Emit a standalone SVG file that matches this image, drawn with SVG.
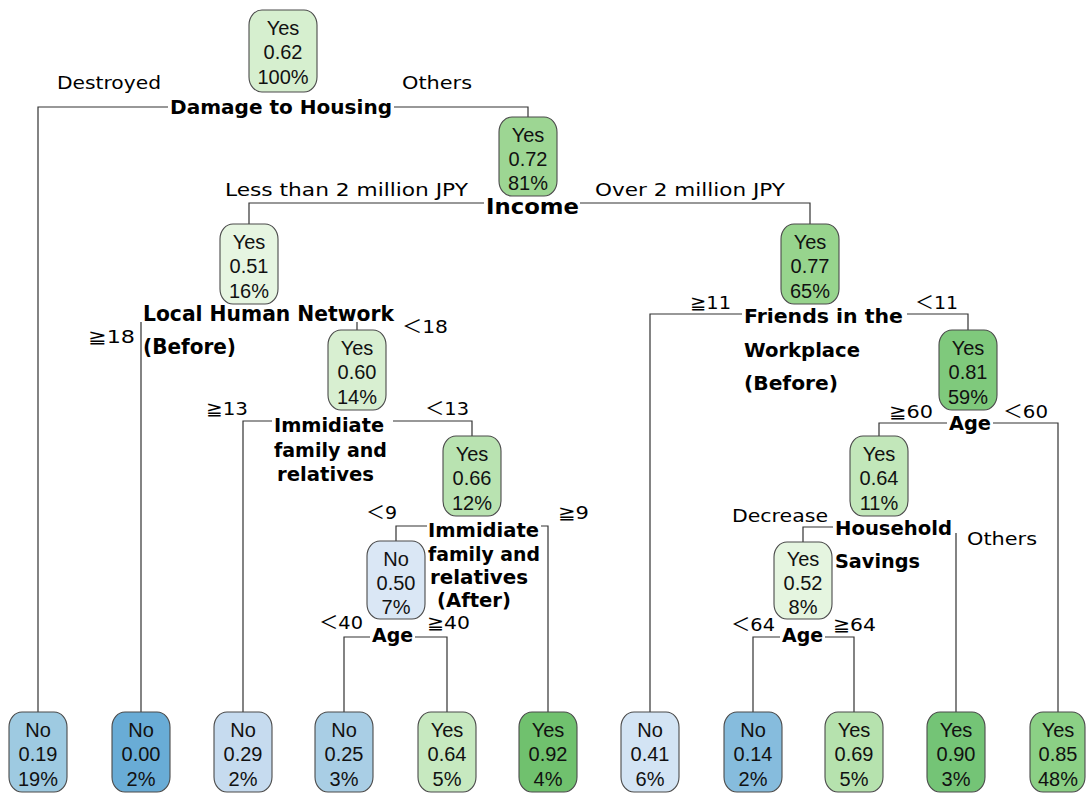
<svg xmlns="http://www.w3.org/2000/svg" width="1086" height="794" viewBox="0 0 1086 794">
<style>
.box{stroke:#4a4a4a;stroke-width:1.1}
.nt{font-family:"Liberation Sans",Arial,sans-serif;font-size:20px;fill:#111;text-anchor:middle}
.sp{font-family:"DejaVu Sans","Noto Sans CJK JP",sans-serif;font-weight:bold;font-size:20px;fill:#000}
.el{font-family:"DejaVu Sans","Noto Sans CJK JP",sans-serif;font-size:18px;fill:#000}
.cn{fill:none;stroke:#333;stroke-width:1.2}
</style>
<rect width="1086" height="794" fill="#fff"/>
<g id="connectors" class="cn">
<path d="M38 712V107H168M394 107H528V117"/>
<path d="M249 224V203H484M580 203H810V224"/>
<path d="M141 712V322M357 322V330"/>
<path d="M243 712V421H272M393 421H472V436"/>
<path d="M396 541V526H427M541 526H548V712"/>
<path d="M344 712V637H370M415 637H447V712"/>
<path d="M650 712V314H742M907 314H968V330"/>
<path d="M879 436V423H947M993 423H1058V712"/>
<path d="M803 542V527H833M956 533V712"/>
<path d="M753 712V637H780M825 637H854V712"/>
</g>
<g id="edge-labels" class="el">
<text x="57" y="89" textLength="104" lengthAdjust="spacingAndGlyphs">Destroyed</text>
<text x="402" y="89" textLength="70" lengthAdjust="spacingAndGlyphs">Others</text>
<text x="225" y="196" textLength="243" lengthAdjust="spacingAndGlyphs">Less than 2 million JPY</text>
<text x="595" y="196" textLength="190" lengthAdjust="spacingAndGlyphs">Over 2 million JPY</text>
<text x="88" y="343" textLength="47" lengthAdjust="spacingAndGlyphs">≧18</text>
<text x="402" y="333" textLength="46" lengthAdjust="spacingAndGlyphs">＜18</text>
<text x="206" y="415" textLength="42" lengthAdjust="spacingAndGlyphs">≧13</text>
<text x="425" y="415" textLength="44" lengthAdjust="spacingAndGlyphs">＜13</text>
<text x="366" y="519" textLength="31" lengthAdjust="spacingAndGlyphs">＜9</text>
<text x="558" y="519" textLength="31" lengthAdjust="spacingAndGlyphs">≧9</text>
<text x="319" y="629" textLength="44" lengthAdjust="spacingAndGlyphs">＜40</text>
<text x="427" y="629" textLength="43" lengthAdjust="spacingAndGlyphs">≧40</text>
<text x="690" y="309" textLength="41" lengthAdjust="spacingAndGlyphs">≧11</text>
<text x="915" y="309" textLength="43" lengthAdjust="spacingAndGlyphs">＜11</text>
<text x="889" y="418" textLength="44" lengthAdjust="spacingAndGlyphs">≧60</text>
<text x="1003" y="418" textLength="45" lengthAdjust="spacingAndGlyphs">＜60</text>
<text x="732" y="522" textLength="96" lengthAdjust="spacingAndGlyphs">Decrease</text>
<text x="967" y="545" textLength="70" lengthAdjust="spacingAndGlyphs">Others</text>
<text x="731" y="631" textLength="44" lengthAdjust="spacingAndGlyphs">＜64</text>
<text x="833" y="631" textLength="43" lengthAdjust="spacingAndGlyphs">≧64</text>
</g>
<g id="split-labels" class="sp">
<text x="170" y="114" textLength="222" lengthAdjust="spacingAndGlyphs">Damage to Housing</text>
<text x="486" y="214" font-size="22" textLength="93" lengthAdjust="spacingAndGlyphs">Income</text>
<text x="143" y="321" font-size="21" textLength="251" lengthAdjust="spacingAndGlyphs">Local Human Network</text>
<text x="143" y="354" font-size="21" textLength="93" lengthAdjust="spacingAndGlyphs">(Before)</text>
<text x="274" y="432" textLength="110" lengthAdjust="spacingAndGlyphs">Immidiate</text>
<text x="274" y="457" textLength="113" lengthAdjust="spacingAndGlyphs">family and</text>
<text x="277" y="481" textLength="97" lengthAdjust="spacingAndGlyphs">relatives</text>
<text x="428" y="537" textLength="111" lengthAdjust="spacingAndGlyphs">Immidiate</text>
<text x="428" y="561" textLength="112" lengthAdjust="spacingAndGlyphs">family and</text>
<text x="430" y="584" textLength="98" lengthAdjust="spacingAndGlyphs">relatives</text>
<text x="437" y="607" textLength="74" lengthAdjust="spacingAndGlyphs">(After)</text>
<text x="372" y="642" textLength="41" lengthAdjust="spacingAndGlyphs">Age</text>
<text x="744" y="323" textLength="159" lengthAdjust="spacingAndGlyphs">Friends in the</text>
<text x="744" y="357" textLength="116" lengthAdjust="spacingAndGlyphs">Workplace</text>
<text x="744" y="390" textLength="94" lengthAdjust="spacingAndGlyphs">(Before)</text>
<text x="949" y="430" textLength="42" lengthAdjust="spacingAndGlyphs">Age</text>
<text x="835" y="535" textLength="117" lengthAdjust="spacingAndGlyphs">Household</text>
<text x="835" y="568" textLength="85" lengthAdjust="spacingAndGlyphs">Savings</text>
<text x="782" y="642" textLength="41" lengthAdjust="spacingAndGlyphs">Age</text>
</g>
<g id="n1"><rect class="box" x="249" y="10" width="68" height="82" rx="13" ry="15" fill="#d6efcf"/><text class="nt" x="283" y="35">Yes</text><text class="nt" x="283" y="59">0.62</text><text class="nt" x="283" y="84">100%</text></g>
<g id="n2"><rect class="box" x="499" y="117" width="58" height="79" rx="13" ry="15" fill="#9dd693"/><text class="nt" x="528" y="142">Yes</text><text class="nt" x="528" y="166">0.72</text><text class="nt" x="528" y="190">81%</text></g>
<g id="n3"><rect class="box" x="220" y="224" width="58" height="80" rx="13" ry="15" fill="#e6f5e1"/><text class="nt" x="249" y="249">Yes</text><text class="nt" x="249" y="273">0.51</text><text class="nt" x="249" y="298">16%</text></g>
<g id="n4"><rect class="box" x="781" y="224" width="58" height="80" rx="13" ry="15" fill="#97d48d"/><text class="nt" x="810" y="249">Yes</text><text class="nt" x="810" y="273">0.77</text><text class="nt" x="810" y="298">65%</text></g>
<g id="n5"><rect class="box" x="328" y="330" width="58" height="80" rx="13" ry="15" fill="#d8efd1"/><text class="nt" x="357" y="355">Yes</text><text class="nt" x="357" y="379">0.60</text><text class="nt" x="357" y="404">14%</text></g>
<g id="n6"><rect class="box" x="939" y="330" width="58" height="80" rx="13" ry="15" fill="#7fc97c"/><text class="nt" x="968" y="355">Yes</text><text class="nt" x="968" y="379">0.81</text><text class="nt" x="968" y="404">59%</text></g>
<g id="n7"><rect class="box" x="443" y="436" width="58" height="80" rx="13" ry="15" fill="#b9e3b1"/><text class="nt" x="472" y="461">Yes</text><text class="nt" x="472" y="485">0.66</text><text class="nt" x="472" y="510">12%</text></g>
<g id="n8"><rect class="box" x="850" y="436" width="58" height="80" rx="13" ry="15" fill="#c2e7ba"/><text class="nt" x="879" y="461">Yes</text><text class="nt" x="879" y="485">0.64</text><text class="nt" x="879" y="510">11%</text></g>
<g id="n9"><rect class="box" x="367" y="541" width="58" height="78" rx="13" ry="15" fill="#dae7f5"/><text class="nt" x="396" y="566">No</text><text class="nt" x="396" y="590">0.50</text><text class="nt" x="396" y="614">7%</text></g>
<g id="n10"><rect class="box" x="774" y="542" width="58" height="77" rx="13" ry="15" fill="#e5f5e0"/><text class="nt" x="803" y="566">Yes</text><text class="nt" x="803" y="590">0.52</text><text class="nt" x="803" y="614">8%</text></g>
<g id="leaf1"><rect class="box" x="9" y="712" width="58" height="80" rx="13" ry="15" fill="#9ecae1"/><text class="nt" x="38" y="737">No</text><text class="nt" x="38" y="761">0.19</text><text class="nt" x="38" y="786">19%</text></g>
<g id="leaf2"><rect class="box" x="112" y="712" width="58" height="80" rx="13" ry="15" fill="#69acd6"/><text class="nt" x="141" y="737">No</text><text class="nt" x="141" y="761">0.00</text><text class="nt" x="141" y="786">2%</text></g>
<g id="leaf3"><rect class="box" x="214" y="712" width="58" height="80" rx="13" ry="15" fill="#c6dbef"/><text class="nt" x="243" y="737">No</text><text class="nt" x="243" y="761">0.29</text><text class="nt" x="243" y="786">2%</text></g>
<g id="leaf4"><rect class="box" x="315" y="712" width="58" height="80" rx="13" ry="15" fill="#a9cee5"/><text class="nt" x="344" y="737">No</text><text class="nt" x="344" y="761">0.25</text><text class="nt" x="344" y="786">3%</text></g>
<g id="leaf5"><rect class="box" x="418" y="712" width="58" height="80" rx="13" ry="15" fill="#c7e9c0"/><text class="nt" x="447" y="737">Yes</text><text class="nt" x="447" y="761">0.64</text><text class="nt" x="447" y="786">5%</text></g>
<g id="leaf6"><rect class="box" x="519" y="712" width="58" height="80" rx="13" ry="15" fill="#70c16e"/><text class="nt" x="548" y="737">Yes</text><text class="nt" x="548" y="761">0.92</text><text class="nt" x="548" y="786">4%</text></g>
<g id="leaf7"><rect class="box" x="621" y="712" width="58" height="80" rx="13" ry="15" fill="#d3e4f4"/><text class="nt" x="650" y="737">No</text><text class="nt" x="650" y="761">0.41</text><text class="nt" x="650" y="786">6%</text></g>
<g id="leaf8"><rect class="box" x="724" y="712" width="58" height="80" rx="13" ry="15" fill="#86bcdd"/><text class="nt" x="753" y="737">No</text><text class="nt" x="753" y="761">0.14</text><text class="nt" x="753" y="786">2%</text></g>
<g id="leaf9"><rect class="box" x="825" y="712" width="58" height="80" rx="13" ry="15" fill="#b6e2ae"/><text class="nt" x="854" y="737">Yes</text><text class="nt" x="854" y="761">0.69</text><text class="nt" x="854" y="786">5%</text></g>
<g id="leaf10"><rect class="box" x="927" y="712" width="58" height="80" rx="13" ry="15" fill="#74c476"/><text class="nt" x="956" y="737">Yes</text><text class="nt" x="956" y="761">0.90</text><text class="nt" x="956" y="786">3%</text></g>
<g id="leaf11"><rect class="box" x="1030" y="712" width="55" height="80" rx="13" ry="15" fill="#8bd085"/><text class="nt" x="1058" y="737">Yes</text><text class="nt" x="1058" y="761">0.85</text><text class="nt" x="1058" y="786">48%</text></g>
</svg>
